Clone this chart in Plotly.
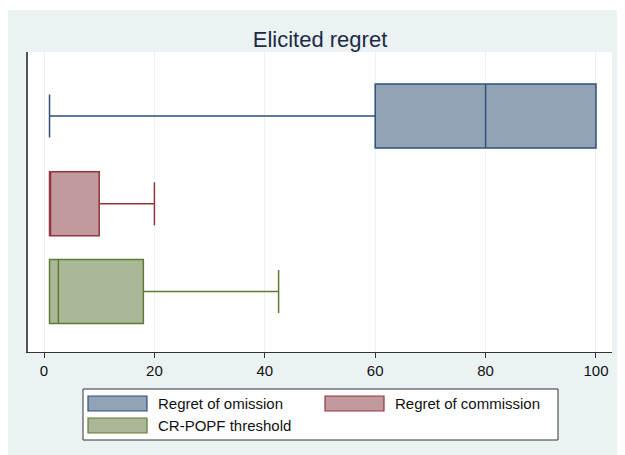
import plotly.graph_objects as go

# ---- data ----
series = ["Regret of omission", "Regret of commission", "CR-POPF threshold"]
positions = [2, 1, 0]
lower_fence = [1, 1, 1]
q1_vals = [60, 1, 1]
median_vals = [80, 1, 2.6]
q3_vals = [100, 10, 18]
upper_fence = [100, 20, 42.5]
x_ticks = [0, 20, 40, 60, 80, 100]

fills = ["#92A3B5", "#C19A9D", "#AAB897"]
lines = ["#2E4F7A", "#93353C", "#5E7A33"]

# The page has an 8px body margin, so figure pixel = page pixel - 8
OFF = 8
W, H = 625 - OFF, 455 - OFF
L, R, T, B = 28 - OFF, 612 - OFF, 52 - OFF, 352 - OFF  # plot area (figure pixels)
BG = "#EAF2F3"

fig = go.Figure()
for name, p, lo, a, m, b, hi, fc, lc in zip(series, positions, lower_fence, q1_vals,
                                            median_vals, q3_vals, upper_fence, fills, lines):
    fig.add_trace(go.Box(
        name=name, y=[p], orientation="h",
        lowerfence=[lo], q1=[a], median=[m], q3=[b], upperfence=[hi],
        width=0.73, whiskerwidth=0.67,
        fillcolor=fc, line=dict(color=lc, width=1.5),
        boxpoints=False, showlegend=False, hoverinfo="skip",
    ))

def px_x(px):  # page pixel -> paper x
    return (px - OFF - L) / (R - L)

def px_y(py):  # page pixel -> paper y
    return (B - (py - OFF)) / (B - T)

shapes = [
    # thin white strip at the top of the page
    dict(type="rect", xref="paper", yref="paper", x0=px_x(0), x1=px_x(W + 30), y0=px_y(10), y1=px_y(0),
         fillcolor="white", line_width=0, layer="below"),
    # legend frame
    dict(type="rect", xref="paper", yref="paper", x0=px_x(83), x1=px_x(558), y0=px_y(440), y1=px_y(389),
         fillcolor="white", line=dict(color="#333333", width=1)),
]
annotations = []
legend_pos = [(88, 396), (325, 396), (88, 418)]
for name, (lx, ly), fc, lc in zip(series, legend_pos, fills, lines):
    shapes.append(dict(type="rect", xref="paper", yref="paper",
                       x0=px_x(lx), x1=px_x(lx + 59), y0=px_y(ly + 15), y1=px_y(ly),
                       fillcolor=fc, line=dict(color=lc, width=1.2)))
    annotations.append(dict(xref="paper", yref="paper", x=px_x(lx + 68), y=px_y(ly + 7.5),
                            text=name, showarrow=False, xanchor="left", yanchor="middle",
                            font=dict(size=15, color="#111111")))

fig.update_layout(
    width=W, height=H,
    margin=dict(l=L, r=W - R, t=T, b=H - B),
    paper_bgcolor=BG, plot_bgcolor="white",
    font=dict(family="Liberation Sans, Arial, sans-serif", size=15, color="#111111"),
    title=dict(text="Elicited regret", x=(L + R) / 2 / W, xanchor="center",
               y=1 - (39 - OFF) / H, yanchor="middle",
               font=dict(size=22, color="#1E2A44")),
    xaxis=dict(range=[-2.9, 102.9], tickvals=x_ticks, ticks="outside", ticklen=5,
               tickcolor="#333333", showline=True, linecolor="#333333", linewidth=1,
               showgrid=True, gridcolor=BG, gridwidth=1, zeroline=False,
               tickfont=dict(size=15, color="#111111")),
    yaxis=dict(range=[-0.69, 2.73], showticklabels=False, ticks="", showgrid=False,
               zeroline=False, showline=True, linecolor="#555555", linewidth=1.5),
    shapes=shapes, annotations=annotations, showlegend=False,
)

# hide page scrollbars so the figure background reaches the window edges
fig.write_html("out.html",
               post_script="document.documentElement.style.overflow='hidden';"
                           "document.body.style.overflow='hidden';")
